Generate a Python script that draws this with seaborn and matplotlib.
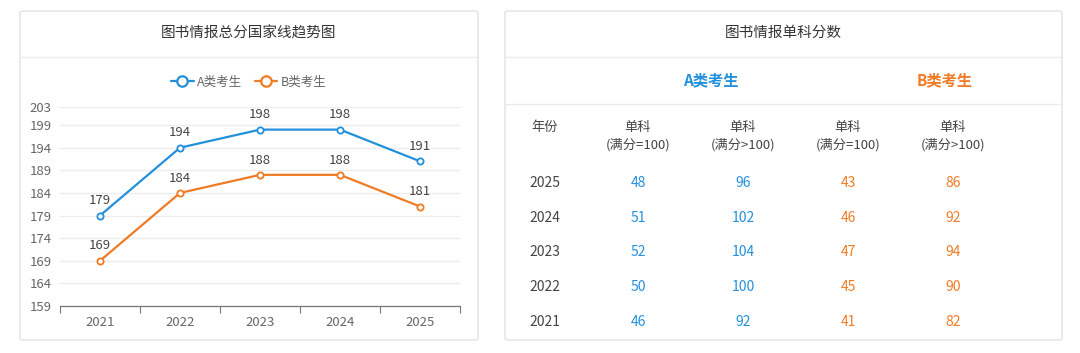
import numpy as np
import pandas as pd
import matplotlib
matplotlib.use("Agg")
import matplotlib.pyplot as plt
import seaborn as sns
from matplotlib.patches import FancyBboxPatch
from matplotlib.lines import Line2D

# =====================
# DATA
# =====================
years = ["2021", "2022", "2023", "2024", "2025"]
score_a = [179, 194, 198, 198, 191]
score_b = [169, 184, 188, 188, 181]
y_ticks = [159, 164, 169, 174, 179, 184, 189, 194, 199, 203]

table_years = ["2025", "2024", "2023", "2022", "2021"]
a_100 = [48, 51, 52, 50, 46]
a_over = [96, 102, 104, 100, 92]
b_100 = [43, 46, 47, 45, 41]
b_over = [86, 92, 94, 90, 82]

BLUE = "#2390dc"
ORANGE = "#ef7b24"
GRAY = "#666666"
W, H = 1080, 353

sns.set_theme(style="white")
plt.rcParams["font.family"] = ["Noto Sans CJK SC", "DejaVu Sans"]

fig = plt.figure(figsize=(W / 100, H / 100), dpi=100)
fig.patch.set_facecolor("white")


def fx(px):
    return px / W


def fy(py):
    return 1 - py / H


def card(x0, y0, x1, y1):
    p = FancyBboxPatch((fx(x0), fy(y1)), fx(x1 - x0), fy(y0) - fy(y1),
                       boxstyle="round,pad=0,rounding_size=0.004",
                       transform=fig.transFigure, facecolor="white",
                       edgecolor="#e2e2e2", linewidth=1.0, zorder=-5)
    fig.patches.append(p)


def hline(x0, x1, y, color="#ebebeb"):
    fig.add_artist(Line2D([fx(x0), fx(x1)], [fy(y), fy(y)],
                          transform=fig.transFigure, color=color, lw=1.0))


# =====================
# LEFT CARD - line chart
# =====================
card(20, 11, 478, 340)
hline(20, 478, 57)
fig.text(fx(249), fy(33), "图书情报总分国家线趋势图", ha="center", va="center",
         fontsize=10.5, color="#333333")

df = pd.DataFrame({
    "year": years * 2,
    "score": score_a + score_b,
    "group": ["A类考生"] * len(years) + ["B类考生"] * len(years),
})
df["pos"] = df["year"].map({y: i for i, y in enumerate(years)})

ax = fig.add_axes([fx(60), fy(306), fx(400), fy(107) - fy(306)])
sns.lineplot(data=df, x="pos", y="score", hue="group",
             palette={"A类考生": BLUE, "B类考生": ORANGE},
             marker="o", linewidth=1.6, ax=ax, legend=False)
# open circle markers
for ln in ax.lines:
    c = ln.get_color()
    ln.set_marker("o")
    ln.set_markersize(4.5)
    ln.set_markerfacecolor("white")
    ln.set_markeredgecolor(c)
    ln.set_markeredgewidth(1.3)
    ln.set_zorder(3)

for _, r in df.iterrows():
    ax.annotate(str(r["score"]), (r["pos"], r["score"]), xytext=(0, 6),
                textcoords="offset points", ha="center", va="bottom",
                fontsize=9.5, color="#444444")

ax.set_xlim(-0.5, len(years) - 0.5)
ax.set_ylim(159, 203)
ax.set_yticks(y_ticks)
ax.set_yticklabels([str(t) for t in y_ticks], fontsize=9.5, color=GRAY)
ax.set_xticks(np.arange(-0.5, len(years), 1.0))
ax.set_xticklabels([])
ax.set_xticks(range(len(years)), minor=True)
ax.set_xticklabels(years, minor=True, fontsize=9.5, color=GRAY)
ax.tick_params(axis="x", which="major", direction="out", length=5,
               color="#777777", width=0.8, bottom=True)
ax.tick_params(axis="x", which="minor", length=0, pad=7)
ax.tick_params(axis="y", length=0, pad=6)
ax.set_xlabel("")
ax.set_ylabel("")
ax.grid(axis="y", color="#ececec", linewidth=0.9)
ax.set_axisbelow(True)
for s in ["top", "right", "left"]:
    ax.spines[s].set_visible(False)
ax.spines["bottom"].set_color("#777777")
ax.spines["bottom"].set_linewidth(0.9)
ax.set_facecolor("none")

handles = [Line2D([], [], color=c, marker="o", markersize=7.5,
                  markerfacecolor="white", markeredgewidth=1.6, lw=1.6)
           for c in (BLUE, ORANGE)]
fig.legend(handles, ["A类考生", "B类考生"], loc="center",
           bbox_to_anchor=(fx(249), fy(82)), ncol=2, frameon=False,
           fontsize=9, handlelength=1.8, columnspacing=1.0,
           handletextpad=0.3, labelcolor=GRAY)

# =====================
# RIGHT CARD - table
# =====================
card(505, 11, 1062, 340)
hline(505, 1062, 57)
hline(505, 1062, 104)
fig.text(fx(783), fy(33), "图书情报单科分数", ha="center", va="center",
         fontsize=10.5, color="#333333")
fig.text(fx(711), fy(80), "A类考生", ha="center", va="center",
         fontsize=11, fontweight="bold", color=BLUE)
fig.text(fx(945), fy(80), "B类考生", ha="center", va="center",
         fontsize=11, fontweight="bold", color=ORANGE)

col_x = [545, 638, 743, 848, 953]
fig.text(fx(col_x[0]), fy(127), "年份", ha="center", va="center",
         fontsize=9.5, color="#444444")
for cx, sub in zip(col_x[1:], ["(满分=100)", "(满分>100)", "(满分=100)", "(满分>100)"]):
    fig.text(fx(cx), fy(127), "单科", ha="center", va="center",
             fontsize=9.5, color="#444444")
    fig.text(fx(cx), fy(145), sub, ha="center", va="center",
             fontsize=9.5, color="#444444")

row_y = [183, 218, 252, 287, 322]
cols = [(a_100, BLUE), (a_over, BLUE), (b_100, ORANGE), (b_over, ORANGE)]
for i, ry in enumerate(row_y):
    fig.text(fx(col_x[0]), fy(ry), table_years[i], ha="center", va="center",
             fontsize=10, color="#444444")
    for cx, (vals, c) in zip(col_x[1:], cols):
        fig.text(fx(cx), fy(ry), str(vals[i]), ha="center", va="center",
                 fontsize=10, color=c)

fig.savefig("out.png", dpi=100, facecolor="white")
